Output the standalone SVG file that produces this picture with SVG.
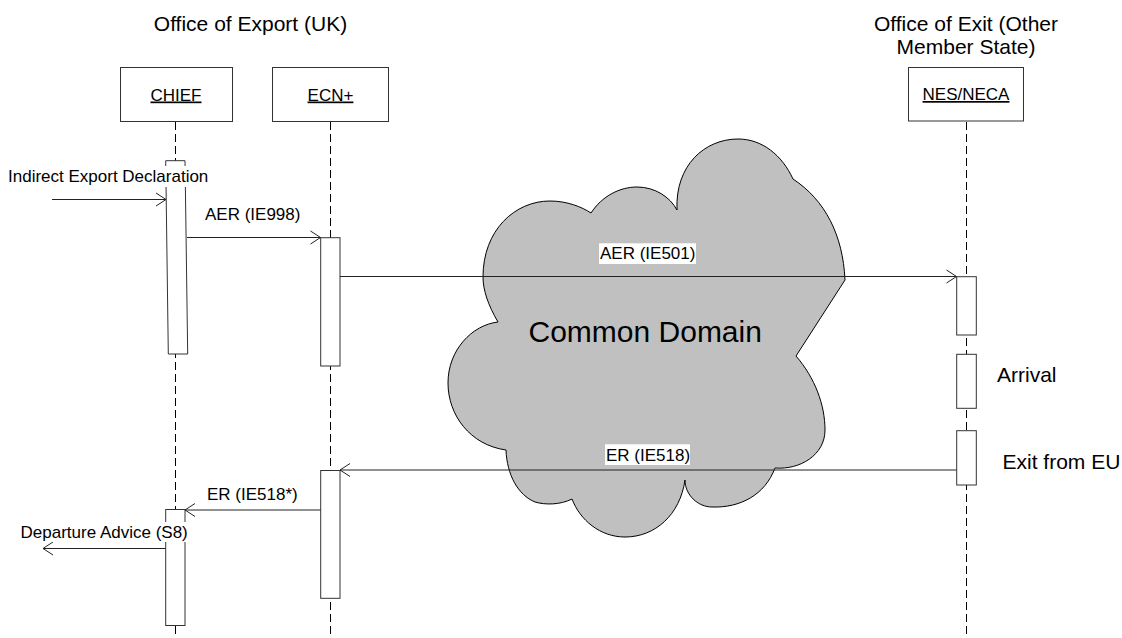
<svg xmlns="http://www.w3.org/2000/svg" width="1122" height="638" viewBox="0 0 1122 638">
<style>
text{font-family:"Liberation Sans",Arial,sans-serif;fill:#000}
.t{font-size:21px}
.l{font-size:17px}
.n{font-size:17px;text-decoration:underline}
.box{fill:#fff;stroke:#333;stroke-width:1}
.life{stroke:#000;stroke-width:1;stroke-dasharray:8,4;fill:none}
.msg{stroke:#222;stroke-width:1;fill:none;marker-end:url(#open)}
.bg{fill:#fff}
</style>
<defs>
<marker id="open" markerUnits="userSpaceOnUse" markerWidth="14" markerHeight="18" refX="11" refY="8" orient="auto">
<path d="M1,1.5 L11,8 L1,14.5" fill="none" stroke="#222" stroke-width="1"/>
</marker>
</defs>
<rect width="1122" height="638" fill="#fff"/>
<text class="t" x="250.5" y="30.5" text-anchor="middle">Office of Export (UK)</text>
<text class="t" x="966" y="30.5" text-anchor="middle">Office of Exit (Other</text>
<text class="t" x="966" y="54" text-anchor="middle">Member State)</text>

<g id="CHIEF">
<line class="life" x1="175.5" y1="122" x2="175.5" y2="638"/>
<rect class="box" x="120.5" y="67.5" width="112" height="54"/>
<text class="n" x="176" y="100.5" text-anchor="middle">CHIEF</text>
<polygon class="box" points="165.7,160.7 185,160.7 187.7,354 168.3,354"/>
<rect class="box" x="165.7" y="509.5" width="19.3" height="116"/>
</g>
<g id="ECN">
<line class="life" x1="330.5" y1="122" x2="330.5" y2="638"/>
<rect class="box" x="272.5" y="67.5" width="116" height="54"/>
<text class="n" x="330.5" y="100.5" text-anchor="middle">ECN+</text>
<rect class="box" x="320.7" y="237.7" width="19.3" height="128.3"/>
<rect class="box" x="320.7" y="470.5" width="19.3" height="127.8"/>
</g>
<g id="NES">
<line class="life" x1="966.5" y1="122" x2="966.5" y2="638"/>
<rect class="box" x="908.5" y="67.5" width="115" height="53.5"/>
<text class="n" x="966" y="100" text-anchor="middle">NES/NECA</text>
<rect class="box" x="956.7" y="276.7" width="19.6" height="58.3"/>
<rect class="box" x="956.7" y="354.3" width="19.6" height="54"/>
<rect class="box" x="956.7" y="430.7" width="19.6" height="54.3"/>
<text class="t" x="997" y="381.5">Arrival</text>
<text class="t" x="1002.5" y="469">Exit from EU</text>
</g>

<g id="cloud">
<path d="M498,322 C488,305 483,290 483,277 C483,230 515,201 550,201 C567,201 582,207 591,213 C602,196 620,187 637,187 C655,187 670,197 677,210 C675,165 705,139 738,139 C762,139 782,155 793,179 C825,200 843,235 845,280 L796,356 C815,378 825,405 825,430 C825,455 800,470 775,468 C765,495 740,508 712,507 C698,507 685,495 685,480 C680,515 655,537 625,537 C600,537 580,520 572,499 C560,505 545,505 535,502 C518,495 507,475 506,450 C470,445 448,415 448,383 C448,350 472,325 498,322 Z" fill="#c0c0c0" stroke="#000" stroke-width="1"/>
<text x="528.5" y="341.5" style="font-size:30px">Common Domain</text>
</g>

<g id="connectors">
<line class="msg" x1="52" y1="199.5" x2="166" y2="199.5"/>
<line class="msg" x1="187" y1="237.5" x2="320.5" y2="237.5"/>
<line class="msg" x1="340" y1="276.5" x2="956.5" y2="276.5"/>
<line class="msg" x1="956.5" y1="470" x2="340" y2="470"/>
<line class="msg" x1="320.5" y1="510" x2="185" y2="510"/>
<line class="msg" x1="165.5" y1="548.5" x2="43" y2="548.5"/>
</g>

<g id="labels">
<rect class="bg" x="7" y="166" width="203" height="21"/>
<text class="l" x="8" y="182">Indirect Export Declaration</text>
<text class="l" x="205" y="220">AER (IE998)</text>
<rect class="bg" x="599" y="243.3" width="97" height="20.7"/>
<text class="l" x="600" y="259">AER (IE501)</text>
<rect class="bg" x="605" y="444.3" width="85" height="20.7"/>
<text class="l" x="606" y="461">ER (IE518)</text>
<text class="l" x="207" y="500">ER (IE518*)</text>
<rect class="bg" x="19" y="522" width="171" height="20"/>
<text class="l" x="20.5" y="537.5">Departure Advice (S8)</text>
</g>
</svg>
